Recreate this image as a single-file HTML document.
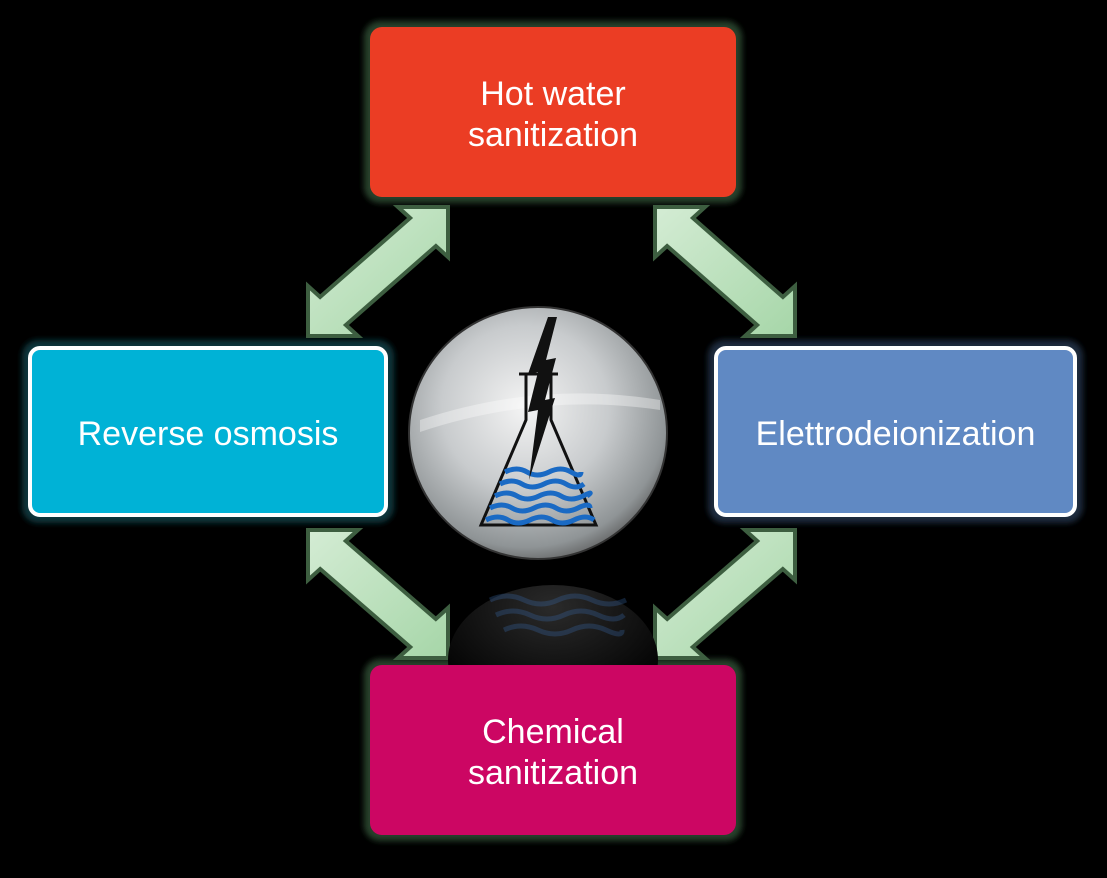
<!DOCTYPE html>
<html><head><meta charset="utf-8"><style>
html,body{margin:0;padding:0;background:#000;}
body{width:1107px;height:878px;position:relative;overflow:hidden;font-family:"Liberation Sans",sans-serif;}
.box{position:absolute;display:flex;align-items:center;justify-content:center;text-align:center;color:#fff;font-size:34px;line-height:41px;border-radius:12px;box-sizing:border-box;padding-top:6px;}
</style></head><body>
<svg id="s" width="1107" height="878" style="position:absolute;left:0;top:0">
<defs>
<linearGradient id="ag" x1="0" y1="0" x2="1" y2="1"><stop offset="0" stop-color="#d4ecd4"/><stop offset="1" stop-color="#a6d6a8"/></linearGradient>
<radialGradient id="cg" cx="0.45" cy="0.4" r="0.65"><stop offset="0" stop-color="#f4f4f4"/><stop offset="0.5" stop-color="#c8cbcd"/><stop offset="0.85" stop-color="#8f9496"/><stop offset="1" stop-color="#555"/></radialGradient>
<radialGradient id="rg" cx="0.5" cy="0.15" r="0.7"><stop offset="0" stop-color="#2a2a2a"/><stop offset="1" stop-color="#000"/></radialGradient>
<filter id="gl"><feGaussianBlur stdDeviation="3"/></filter>
</defs>
<rect x="364" y="21" width="378" height="182" rx="16" fill="#26402a" filter="url(#gl)"/>
<rect x="364" y="659" width="378" height="182" rx="16" fill="#26402a" filter="url(#gl)"/>
<rect x="22" y="340" width="372" height="183" rx="16" fill="#10343a" filter="url(#gl)"/>
<rect x="708" y="340" width="375" height="183" rx="16" fill="#1c2a3e" filter="url(#gl)"/>
<g id="arrows" fill="url(#ag)" stroke="#3d5e40" stroke-width="4" stroke-linejoin="miter"></g>
<ellipse cx="553" cy="660" rx="105" ry="75" fill="url(#rg)"/>
<g opacity="0.3" stroke="#3a6aaa" stroke-width="5" fill="none">
<path d="M490,600 q17,-8 34,0 t34,0 t34,0 t34,0"/><path d="M496,615 q17,-8 34,0 t34,0 t34,0 t26,0"/><path d="M504,630 q17,-8 34,0 t34,0 t34,0 t16,0"/>
</g>
<ellipse cx="538" cy="433" rx="129" ry="126" fill="url(#cg)" stroke="#333" stroke-width="2"/>
<path d="M420,420 Q540,380 660,400 L660,410 Q540,392 420,432Z" fill="#fff" opacity="0.35"/>
<path d="M526,375 L526,420 L481,525 L596,525 L551,420 L551,375" fill="none" stroke="#111" stroke-width="3"/>
<line x1="519" y1="374" x2="558" y2="374" stroke="#111" stroke-width="3"/>
<g stroke="#1a6ac4" stroke-width="5" fill="none">
<path d="M505,472 q12,-6 22,0 t22,0 t22,0 t10,0"/>
<path d="M500,484 q12,-6 22,0 t22,0 t22,0 t18,0"/>
<path d="M495,496 q12,-6 22,0 t22,0 t22,0 t22,0 t4,0"/>
<path d="M490,508 q12,-6 22,0 t22,0 t22,0 t22,0 t12,0"/>
<path d="M486,520 q12,-6 22,0 t22,0 t22,0 t22,0 t20,0"/>
</g>
<polygon points="548,317 557,317 546,360 556,358 545,400 555,398 529,480 538,410 528,412 538,372 528,374" fill="#111"/>
</svg>
<div class="box" style="left:370px;top:27px;width:366px;height:170px;background:#eb3d24;">Hot water<br>sanitization</div>
<div class="box" style="left:370px;top:665px;width:366px;height:170px;background:#cc0663;">Chemical<br>sanitization</div>
<div class="box" style="left:28px;top:346px;width:360px;height:171px;background:#00b2d6;border:4px solid #fff;">Reverse osmosis</div>
<div class="box" style="left:714px;top:346px;width:363px;height:171px;background:#6089c3;border:4px solid #fff;">Elettrodeionization</div>
<script>
function arrow(a,b){
  var H=50,S=19;
  var dx=b[0]-a[0],dy=b[1]-a[1],L=Math.hypot(dx,dy),ux=dx/L,uy=dy/L,nx=-uy,ny=ux;
  function head(t,o){
    var sx=Math.sign(o[0]-t[0]),sy=Math.sign(o[1]-t[1]);
    var w1=[t[0]+sx*H,t[1]],w2=[t[0],t[1]+sy*H],m=[t[0]+sx*H/2,t[1]+sy*H/2];
    var p=[m[0]+nx*S,m[1]+ny*S],q=[m[0]-nx*S,m[1]-ny*S];
    var d1=Math.hypot(p[0]-w1[0],p[1]-w1[1]),d2=Math.hypot(q[0]-w1[0],q[1]-w1[1]);
    return d1<d2?{w1:w1,w2:w2,s1:p,s2:q}:{w1:w1,w2:w2,s1:q,s2:p};
  }
  var A=head(a,b),B=head(b,a);
  var side=function(p){return (p[0]-a[0])*nx+(p[1]-a[1])*ny;};
  var bs1,bw1,bs2,bw2;
  if(Math.sign(side(B.s1))==Math.sign(side(A.s1))){bs1=B.s1;bw1=B.w1;bs2=B.s2;bw2=B.w2;}else{bs1=B.s2;bw1=B.w2;bs2=B.s1;bw2=B.w1;}
  var pts=[a,A.w1,A.s1,bs1,bw1,b,bw2,bs2,A.s2,A.w2];
  var poly=document.createElementNS("http://www.w3.org/2000/svg","polygon");
  poly.setAttribute("points",pts.map(function(p){return p[0].toFixed(1)+","+p[1].toFixed(1);}).join(" "));
  document.getElementById("arrows").appendChild(poly);
}
arrow([448,207],[308,336]);
arrow([655,207],[795,336]);
arrow([308,530],[448,658]);
arrow([795,530],[655,658]);
</script>
</body></html>
